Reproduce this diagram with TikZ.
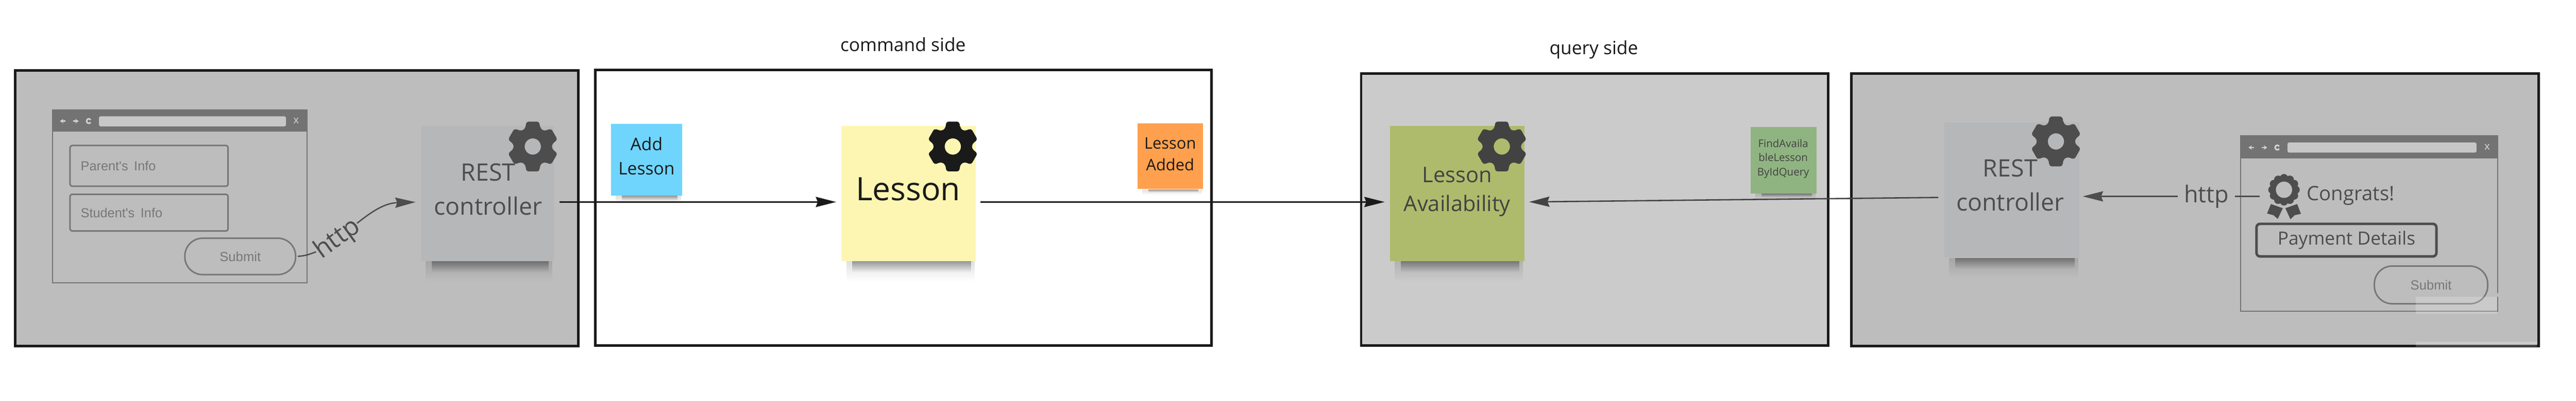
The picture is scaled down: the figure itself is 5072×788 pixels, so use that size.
\documentclass[tikz,border=0pt]{standalone}
\usepackage{fontspec}
\setmainfont{Open Sans}
\newfontfamily\wirefont{Liberation Sans}
\usetikzlibrary{calc, arrows.meta, fadings}

\definecolor{framecol}{HTML}{1A1A1A}
\definecolor{panelgrey}{HTML}{BDBDBD}
\definecolor{querygrey}{HTML}{CBCBCB}
\definecolor{darkink}{HTML}{4D4D4D}
\definecolor{queryink}{HTML}{424242}
\definecolor{wireink}{HTML}{777777}
\definecolor{barcol}{HTML}{737373}
\definecolor{iconcol}{HTML}{D2D2D2}
\definecolor{restcol}{HTML}{B6B7B9}
\definecolor{lessoncol}{HTML}{FDF6B2}
\definecolor{addcol}{HTML}{6FD5FC}
\definecolor{addedcol}{HTML}{FFA04E}
\definecolor{availcol}{HTML}{AEBB6C}
\definecolor{findcol}{HTML}{8FB481}

\tikzfading[name=shadowfade, top color=transparent!88, bottom color=transparent!100]
\tikzfading[name=corefade, top color=transparent!68, bottom color=transparent!100]

\newcommand{\pxfont}[2]{\fontsize{#1}{#2}\selectfont}
\newcommand{\castshadow}[2]{
    \fill[black, path fading=shadowfade] ($(#1.south west)+(10,0)$) rectangle ($(#1.south east)+(-3,#2)$);
    \fill[black, path fading=corefade] ($(#1.south west)+(22,0)$) rectangle ($(#1.south east)+(-10,#2*.55)$);
}

\tikzset{
    panel/.style={draw=framecol, line width=.05cm, anchor=north west, outer sep=0pt},
    sticky/.style={inner sep=0pt},
    stickytext/.style={align=center, inner sep=0pt},
    conn/.style={line width=.026cm, -{Stealth[length=.4cm, width=.2cm, inset=.04cm]}, shorten <=.11cm, shorten >=.1cm},
    wirebox/.style={draw=#1, line width=.03cm, rounded corners=1.2pt, inner sep=0pt},
    pillbox/.style={draw=wireink, line width=.03cm, rounded corners=.35cm, inner sep=0pt, font=\wirefont\pxfont{7.4}{9}, text=wireink},
    gearicon/.pic={
        \path[pic actions, even odd rule, rounded corners=1.2pt] ([rotate=90]35,15)
            \foreach \t in {90,150,210,270,330,390} {
                -- ([rotate=\t]35,15) -- ([rotate=\t]49,12.5) -- ([rotate=\t]49,-12.5) -- ([rotate=\t]35,-15)
            } -- cycle (0,0) circle (16);
    },
    navicons/.pic={
        \draw[iconcol, line width=.025cm, -{Stealth[length=.07cm, width=.09cm]}] (5,0) -- (-6,0);
        \draw[iconcol, line width=.025cm, -{Stealth[length=.07cm, width=.09cm]}] (20,0) -- (31,0);
        \draw[iconcol, line width=.03cm] (51,0) ++(35:4.5) arc (35:325:4.5);
    }
}

\begin{document}
\begin{tikzpicture}[x=.01cm, y=-.01cm]
    \useasboundingbox (0,0) rectangle (5072,788);
    \coordinate (levelone) at (0,397);
    \coordinate (leveltwo) at (0,388);

    \node[panel, fill=panelgrey, minimum width=11.08cm, minimum height=5.42cm] (clientpanel) at (30,138) {};
    \node[panel, fill=white, minimum width=12.13cm, minimum height=5.42cm] (commandpanel) at (1172,137) {};
    \node[panel, fill=querygrey, minimum width=9.19cm, minimum height=5.34cm] (querypanel) at (2680,145) {};
    \node[panel, fill=panelgrey, minimum width=13.53cm, minimum height=5.35cm] (userpanel) at (3645,145) {};

    \node[font=\pxfont{10.2}{14}, text=framecol] (commandlabel) at (1778,87) {command side};
    \node[font=\pxfont{10.2}{14}, text=framecol] (querylabel) at (3138,98) {query side};

    % left browser
    \node[draw=barcol, line width=.02cm, inner sep=0pt, minimum width=5cm, minimum height=3.4cm] (browserone) at (354,386) {};
    \node[fill=barcol, inner sep=0pt, minimum width=5cm, minimum height=.43cm] (barone) at (354,237.5) {};
    \node[fill=panelgrey!85!white, rounded corners=1pt, inner sep=0pt, minimum width=3.68cm, minimum height=.2cm] (urlone) at (379,238.5) {};
    \pic at (124,238) {navicons};
    \node[font=\wirefont\pxfont{6}{7}, text=iconcol] (closeone) at (583,237) {x};
    \node[wirebox=wireink, minimum width=3.11cm, minimum height=.8cm, text width=2.69cm, align=left] (parentinfo) at (293.5,326) {\wirefont\pxfont{7.3}{9}\color{wireink}Parent's Info};
    \node[wirebox=wireink, minimum width=3.11cm, minimum height=.72cm, text width=2.69cm, align=left] (studentinfo) at (293.5,418) {\wirefont\pxfont{7.3}{9}\color{wireink}Student's Info};
    \node[pillbox, minimum width=2.18cm, minimum height=.715cm] (submitone) at (473,504) {Submit};

    \node[sticky, fill=restcol, minimum width=2.61cm, minimum height=2.65cm] (restone) at (959.5,380.5) {};
    \castshadow{restone}{39}
    \node[stickytext, font=\pxfont{13.4}{19}, text=darkink] (restonetext) at (961,372) {REST\\controller};
    \pic[fill=darkink] at (1049,288) {gearicon};
    \draw[conn, draw=darkink, shorten <=.03cm] (submitone.east) .. controls (660,500) and (720,400) .. (restone.west |- levelone)
        node[pos=.37, rotate=36, fill=panelgrey, inner sep=0pt, font=\pxfont{14.4}{16}, text=darkink] (httpone) {http};

    % command side
    \node[sticky, fill=addcol, minimum width=1.4cm, minimum height=1.41cm] (addlesson) at (1273,313.5) {};
    \castshadow{addlesson}{17}
    \node[stickytext, font=\pxfont{9.7}{13.5}, text=framecol] (addtext) at (1273,307) {Add\\Lesson};
    \node[sticky, fill=addedcol, minimum width=1.29cm, minimum height=1.29cm] (lessonadded) at (2304.5,307) {};
    \castshadow{lessonadded}{11}
    \node[stickytext, font=\pxfont{8.9}{12}, text=framecol] (addedtext) at (2304,303) {Lesson\\Added};
    \node[sticky, fill=lessoncol, minimum width=2.64cm, minimum height=2.65cm] (lesson) at (1789,380.5) {};
    \castshadow{lesson}{39}
    \node[stickytext, font=\pxfont{18}{24}, text=framecol] (lessontext) at (1788,372) {Lesson};
    \pic[fill=framecol] at (1876,288) {gearicon};

    % query side
    \node[sticky, fill=availcol, minimum width=2.64cm, minimum height=2.65cm] (availability) at (2869,380.5) {};
    \castshadow{availability}{39}
    \node[stickytext, font=\pxfont{12}{16.4}, text=queryink] (availtext) at (2869,377) {Lesson\\Availability};
    \pic[fill=queryink] at (2957,288) {gearicon};
    \node[sticky, fill=findcol, minimum width=1.3cm, minimum height=1.3cm] (findquery) at (3512,315) {};
    \castshadow{findquery}{12}
    \node[stickytext, font=\pxfont{5.9}{8}, text=queryink] (findtext) at (3511,312) {FindAvaila\\bleLesson\\ByIdQuery};

    % right browser
    \node[draw=barcol, line width=.02cm, inner sep=0pt, minimum width=5.06cm, minimum height=3.45cm] (browsertwo) at (4665,439.5) {};
    \node[fill=barcol, inner sep=0pt, minimum width=5.06cm, minimum height=.44cm] (bartwo) at (4665,289) {};
    \node[fill=panelgrey!85!white, rounded corners=1pt, inner sep=0pt, minimum width=3.72cm, minimum height=.2cm] (urltwo) at (4690,290) {};
    \pic at (4433,290) {navicons};
    \node[font=\wirefont\pxfont{6}{7}, text=iconcol] (closetwo) at (4897,289) {x};
    \node[wirebox=darkink, line width=.05cm, rounded corners=2pt, font=\pxfont{10.2}{14}, text=darkink, minimum width=3.54cm, minimum height=.64cm] (paymentbtn) at (4620,472) {Payment Details};
    \node[pillbox, minimum width=2.23cm, minimum height=.74cm] (submittwo) at (4786.5,560) {Submit};
    \node[inner sep=0pt, minimum width=.69cm, minimum height=.89cm] (ribbon) at (4497,386) {};
    \begin{scope}[shift={(4497,373)}]
        \fill[darkink] (-25.7,28) -- (-2.3,36.3) -- (-12.3,57.3) -- (-20.7,50) -- (-33.3,46.7) -- cycle;
        \fill[darkink] (2.7,36.3) -- (26,28) -- (33.3,47.3) -- (21,50) -- (12.7,58) -- cycle;
        \fill[panelgrey] (0,0) circle (34);
        \fill[darkink] (0,0) circle (26);
        \foreach \a in {0,30,...,330}
            \fill[darkink] (\a:23) circle (8);
        \fill[panelgrey] (0,0) circle (16);
    \end{scope}
    \node[anchor=west, inner sep=0pt, font=\pxfont{11.1}{14}, text=darkink] (congrats) at (4541,385) {Congrats!};

    \node[sticky, fill=restcol, minimum width=2.66cm, minimum height=2.66cm] (resttwo) at (3961,373) {};
    \castshadow{resttwo}{39}
    \node[stickytext, font=\pxfont{13.4}{19}, text=darkink] (resttwotext) at (3958,364) {REST\\controller};
    \pic[fill=darkink] at (4048,278) {gearicon};
    \draw[conn, draw=darkink, shorten >=.06cm, shorten <=.13cm] (ribbon.west) -- (resttwo.east |- ribbon)
        node[pos=.32, fill=panelgrey, inner xsep=.12cm, inner ysep=0pt, font=\pxfont{13}{16}, text=darkink] (httptwo) {http};

    % connectors between the sides
    \draw[conn, draw=framecol] (restone.east |- levelone) -- (lesson.west |- levelone);
    \draw[conn, draw=framecol, shorten <=.09cm] (lesson.east |- levelone) -- (availability.west |- levelone);
    \draw[conn, draw=queryink, shorten <=.11cm, shorten >=.09cm] (resttwo.west |- leveltwo) -- (availability.east |- levelone);

    % washed out corner
    \fill[white, opacity=.2] (4756,583) rectangle (4917,617);
    \fill[white, opacity=.2] (4756,672) rectangle (4995,682);
    \fill[panelgrey] (4912,576) rectangle (4922,583);
\end{tikzpicture}
\end{document}
